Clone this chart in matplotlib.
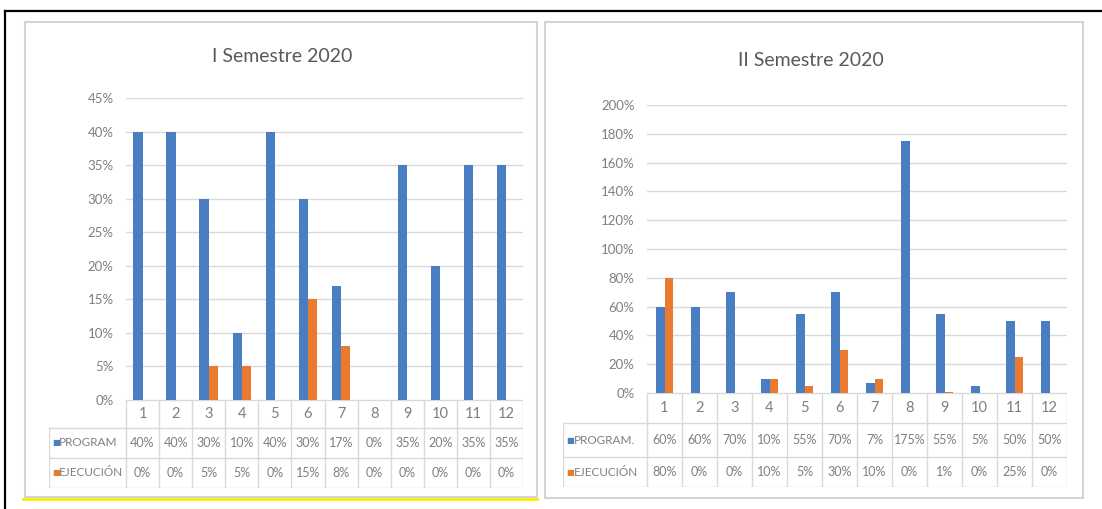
import numpy as np
import matplotlib
matplotlib.use("Agg")
import matplotlib.pyplot as plt
from matplotlib.patches import Rectangle
from matplotlib.ticker import PercentFormatter

plt.rcParams['font.family'] = ['Liberation Sans Narrow', 'DejaVu Sans Condensed',
                               'Lato', 'DejaVu Sans']

meses = ['1', '2', '3', '4', '5', '6', '7', '8', '9', '10', '11', '12']
series = ['PROGRAM', 'EJECUCIÓN']
series2 = ['PROGRAM.', 'EJECUCIÓN']

prog_1 = [40, 40, 30, 10, 40, 30, 17, 0, 35, 20, 35, 35]
ejec_1 = [0, 0, 5, 5, 0, 15, 8, 0, 0, 0, 0, 0]
prog_2 = [60, 60, 70, 10, 55, 70, 7, 175, 55, 5, 50, 50]
ejec_2 = [80, 0, 0, 10, 5, 30, 10, 0, 1, 0, 25, 0]

azul = '#4A7EC2'
naranja = '#E97A2F'
gris_txt = '#7F7F7F'
gris_lin = '#D9D9D9'

W, H = 1102, 509
fig = plt.figure(figsize=(W / 100, H / 100), dpi=100)


def caja(x0, y0, x1, y1):
    # pixel box -> figure fraction
    return [x0 / W, 1 - y1 / H, (x1 - x0) / W, (y1 - y0) / H]


# fondo: marcos, lineas
bg = fig.add_axes([0, 0, 1, 1], zorder=-5)
bg.set_xlim(0, W)
bg.set_ylim(H, 0)
bg.axis('off')
bg.add_patch(Rectangle((25, 22), 512, 475, fc='white', ec='#D4D4D4', lw=1.5))
bg.add_patch(Rectangle((545, 22), 538, 476, fc='white', ec='#D4D4D4', lw=1.5))
bg.plot([5, W], [11, 11], color='black', lw=1.6)
bg.plot([5, 5], [11, H], color='black', lw=1.6)
bg.plot([23, 537], [499, 499], color='#FFEE00', lw=2)


def panel(titulo, prog, ejec, etiquetas, ymax, paso, ancho,
          px, py, tabla_x0, filas, titulo_xy):
    x = np.arange(len(meses))
    ax = fig.add_axes(caja(px[0], py[0], px[1], py[1]))
    ax.set_facecolor('none')
    ax.bar(x - ancho / 2, np.array(prog) / 100, ancho, color=azul, zorder=3)
    ax.bar(x + ancho / 2, np.array(ejec) / 100, ancho, color=naranja, zorder=3)
    ax.set_xlim(-0.5, len(meses) - 0.5)
    ax.set_ylim(0, ymax)
    ax.set_yticks(np.arange(0, ymax + 1e-9, paso))
    ax.yaxis.set_major_formatter(PercentFormatter(1.0, decimals=0))
    ax.tick_params(axis='y', length=0, labelsize=9.5, labelcolor=gris_txt, pad=9)
    ax.set_xticks([])
    ax.grid(axis='y', color=gris_lin, lw=1, zorder=0)
    for s in ax.spines.values():
        s.set_visible(False)

    fig.text(titulo_xy[0] / W, 1 - titulo_xy[1] / H, titulo, ha='center',
             va='center', fontsize=14, color='#595959')

    # tabla de datos
    unidad = (px[1] - px[0]) / len(meses)
    izq = -0.5 - (px[0] - tabla_x0) / unidad
    tb = fig.add_axes(caja(tabla_x0, filas[0], px[1], filas[-1]))
    tb.set_xlim(izq, len(meses) - 0.5)
    tb.set_ylim(filas[-1], filas[0])
    tb.axis('off')
    tb.set_facecolor('none')
    ls = dict(color=gris_lin, lw=1)
    tb.plot([-0.5, len(meses) - 0.5], [filas[0], filas[0]], **ls)
    for yy in filas[1:]:
        tb.plot([izq, len(meses) - 0.5], [yy, yy], **ls)
    for i in range(len(meses) + 1):
        tb.plot([i - 0.5, i - 0.5], [filas[0], filas[-1]], **ls)
    tb.plot([izq, izq], [filas[1], filas[-1]], **ls)

    yc = [(filas[i] + filas[i + 1]) / 2 for i in range(3)]
    for i, m in enumerate(meses):
        tb.text(i, yc[0], m, ha='center', va='center', fontsize=10.5, color=gris_txt)
        tb.text(i, yc[1], f'{prog[i]}%', ha='center', va='center', fontsize=9, color=gris_txt)
        tb.text(i, yc[2], f'{ejec[i]}%', ha='center', va='center', fontsize=9, color=gris_txt)
    for k, (lab, col) in enumerate(zip(etiquetas, [azul, naranja])):
        tb.text(izq + 0.1, yc[k + 1], '■', ha='left', va='center', fontsize=6,
                color=col, family='DejaVu Sans')
        tb.text(izq + 0.3, yc[k + 1], lab, ha='left', va='center', fontsize=8.5,
                color=gris_txt)


panel('I Semestre 2020', prog_1, ejec_1, series, 0.45, 0.05, 0.28,
      (126, 523), (98, 400), 49, [400, 428, 458, 488], (282, 57))
panel('II Semestre 2020', prog_2, ejec_2, series2, 2.0, 0.2, 0.25,
      (647, 1067), (105, 393), 563, [393, 423, 457, 487], (811, 60))

fig.savefig('out.png', dpi=100)
